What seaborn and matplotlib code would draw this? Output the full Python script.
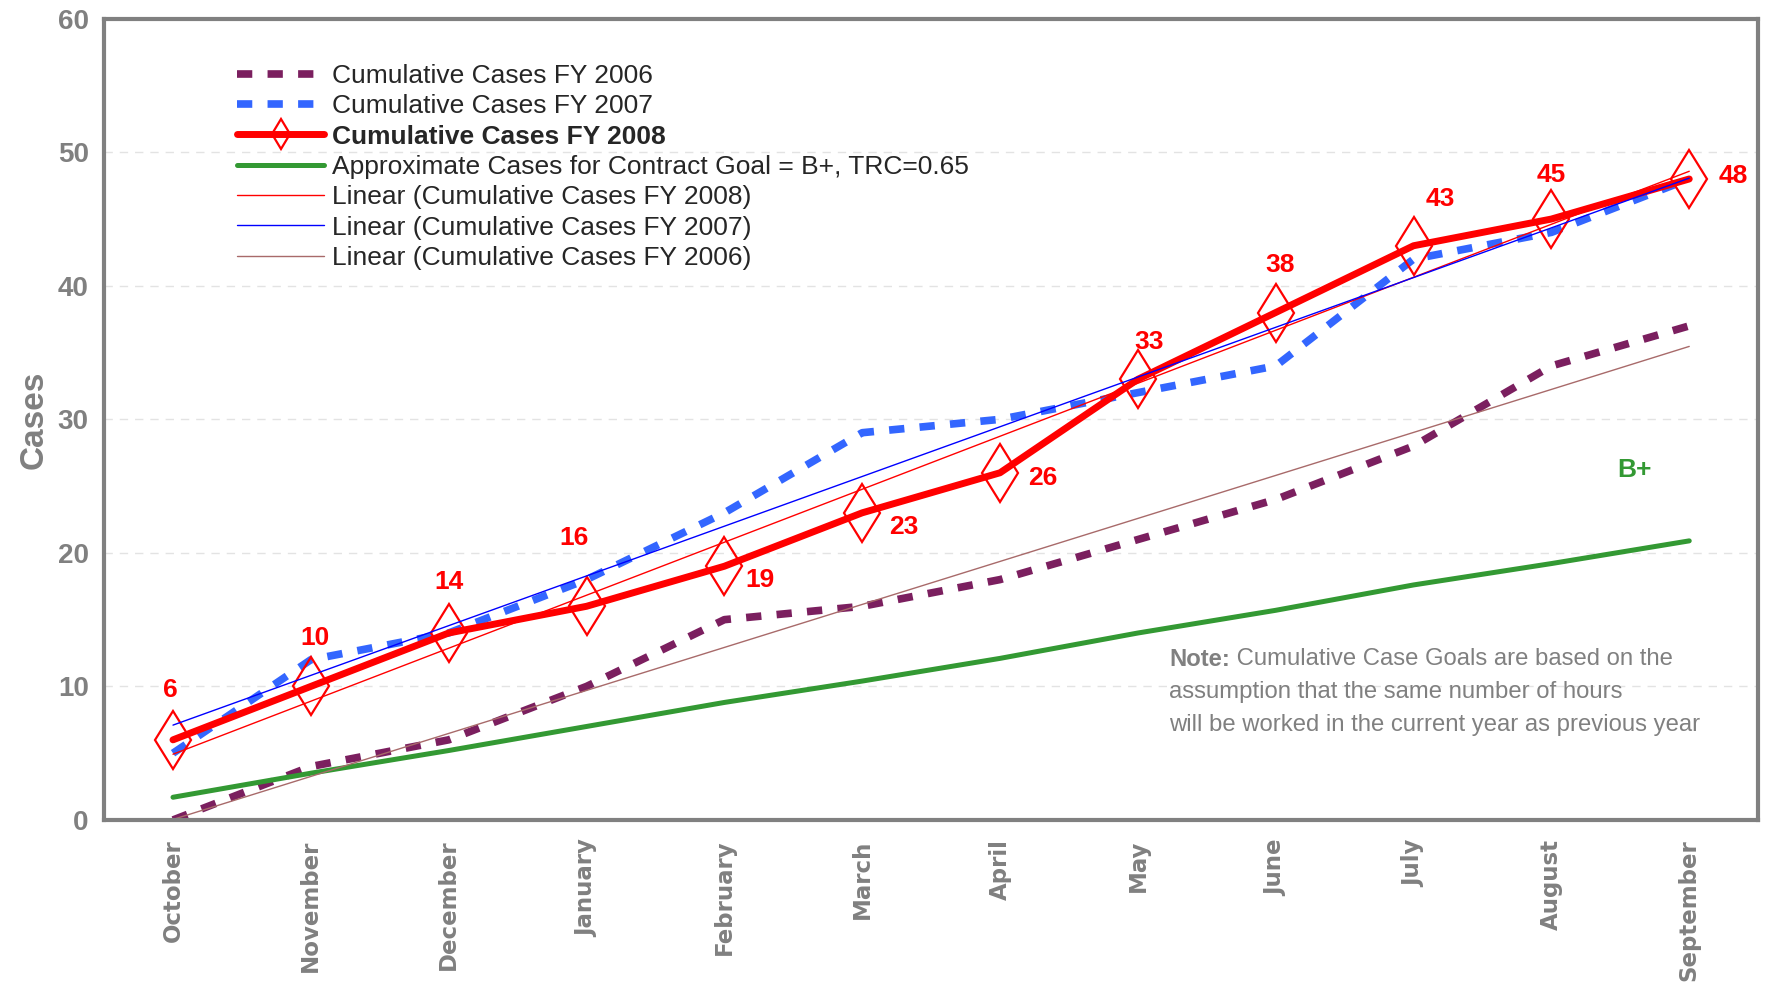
import numpy as np
import pandas as pd
import matplotlib
matplotlib.use("Agg")
import matplotlib.pyplot as plt
import seaborn as sns

# values
months = ["October", "November", "December", "January", "February", "March",
          "April", "May", "June", "July", "August", "September"]
fy2006 = [0, 4, 6, 10, 15, 16, 18, 21, 24, 28, 34, 37]
fy2007 = [5, 12, 14, 18, 23, 29, 30, 32, 34, 42, 44, 48]
fy2008 = [6, 10, 14, 16, 19, 23, 26, 33, 38, 43, 45, 48]
goal = [1.7, 3.5, 5.2, 7.0, 8.8, 10.4, 12.1, 14.0, 15.7, 17.6, 19.2, 20.9]

# label offsets (points) for the FY 2008 value labels
label_offsets = [(-2, 36), (3, 35), (0, 37), (-9, 49), (26, -10), (30, -10),
                 (31, -4), (8, 27), (3, 34), (19, 34), (0, 32), (32, 2)]

NARROW = ["Liberation Sans Narrow", "Liberation Sans", "DejaVu Sans"]
GRAY = "#808080"

df = pd.DataFrame({"idx": np.arange(len(months)), "month": months,
                   "fy2006": fy2006, "fy2007": fy2007, "fy2008": fy2008, "goal": goal})

sns.set_style("white")
plt.rcParams["font.family"] = NARROW

fig = plt.figure(figsize=(17.67, 9.86), dpi=100)
ax = fig.add_axes([0.0589, 0.1684, 0.995 - 0.0589, 0.981 - 0.1684])

# grid lines
ax.yaxis.grid(True, linestyle=(0, (6, 5)), color="#e3e3e3", linewidth=1)
ax.set_axisbelow(True)

dash = (0, (2.0, 2.0))
sns.lineplot(data=df, x="idx", y="fy2006", ax=ax, color="#7b1f5f", linewidth=5.5,
             linestyle=dash, label="Cumulative Cases FY 2006")
sns.lineplot(data=df, x="idx", y="fy2007", ax=ax, color="#3366ff", linewidth=5.5,
             linestyle=dash, label="Cumulative Cases FY 2007")
sns.lineplot(data=df, x="idx", y="fy2008", ax=ax, color="#ff0000", linewidth=5,
             marker="d", markersize=30, markerfacecolor="none",
             markeredgecolor="#ff0000", markeredgewidth=1.6,
             label="Cumulative Cases FY 2008")
sns.lineplot(data=df, x="idx", y="goal", ax=ax, color="#339933", linewidth=3.6,
             label="Approximate Cases for Contract Goal = B+, TRC=0.65")

# linear trendlines
sns.regplot(data=df, x="idx", y="fy2008", ax=ax, scatter=False, ci=None, truncate=True,
            line_kws=dict(color="#ff0000", linewidth=1), label="Linear (Cumulative Cases FY 2008)")
sns.regplot(data=df, x="idx", y="fy2007", ax=ax, scatter=False, ci=None, truncate=True,
            line_kws=dict(color="#0000ff", linewidth=1), label="Linear (Cumulative Cases FY 2007)")
sns.regplot(data=df, x="idx", y="fy2006", ax=ax, scatter=False, ci=None, truncate=True,
            line_kws=dict(color="#a86a6a", linewidth=1), label="Linear (Cumulative Cases FY 2006)")

# value labels for FY 2008
for i, v in enumerate(fy2008):
    ax.annotate(str(v), xy=(i, v), xytext=label_offsets[i], textcoords="offset points",
                ha="center", va="center", color="#ff0000", fontsize=19,
                fontweight="bold", family=NARROW)

ax.text(10.6, 26.2, "B+", color="#339933", fontsize=19, fontweight="bold",
        ha="center", va="center", family=NARROW)

# axes
ax.set_xlim(-0.5, len(months) - 0.5)
ax.set_ylim(0, 60)
ax.set_xticks(df["idx"])
ax.set_xticklabels(months, rotation=90, fontsize=16.5, fontweight="bold", color=GRAY,
                   family=["DejaVu Sans"])
ax.set_xticks(np.arange(-0.5, len(months)), minor=True)
ax.tick_params(axis="x", which="major", length=0, pad=14)
ax.tick_params(axis="x", which="minor", length=9, width=2.5, color=GRAY, direction="out")
ax.set_yticks(range(0, 61, 10))
ax.tick_params(axis="y", length=7, width=2.5, color=GRAY, direction="out", pad=4)
for lab in ax.get_yticklabels():
    lab.set_fontsize(20)
    lab.set_fontweight("bold")
    lab.set_color(GRAY)
ax.set_xlabel("")
ax.set_ylabel("Cases", fontsize=24, fontweight="bold", color=GRAY,
              family=["Liberation Sans", "DejaVu Sans"], labelpad=6)
for sp in ax.spines.values():
    sp.set_color(GRAY)
    sp.set_linewidth(3)
    sp.set_visible(True)

# legend
handles, labels = ax.get_legend_handles_labels()
leg = ax.legend(handles, labels, loc="upper left", bbox_to_anchor=(237 / 1767, 1 - 64 / 986),
                bbox_transform=fig.transFigure, frameon=False, fontsize=19,
                borderpad=0, borderaxespad=0, labelspacing=0.24, handlelength=3.3,
                handletextpad=0.3, markerscale=0.5)
for j, t in enumerate(leg.get_texts()):
    if j == 2:
        t.set_fontweight("bold")

# note
note = fig.text(1169 / 1767, 1 - 659 / 986, "Note:", fontsize=17.2, fontweight="bold",
                color=GRAY, va="center", ha="left", family=NARROW)
ax.annotate(" Cumulative Case Goals are based on the", xy=(1, 0.5), xycoords=note,
            va="center", ha="left", fontsize=17.2, color=GRAY, family=NARROW)
fig.text(1169 / 1767, 1 - 692 / 986, "assumption that the same number of hours",
         fontsize=17.2, color=GRAY, va="center", ha="left", family=NARROW)
fig.text(1169 / 1767, 1 - 725 / 986, "will be worked in the current year as previous year",
         fontsize=17.2, color=GRAY, va="center", ha="left", family=NARROW)

fig.savefig("out.png", dpi=100)
